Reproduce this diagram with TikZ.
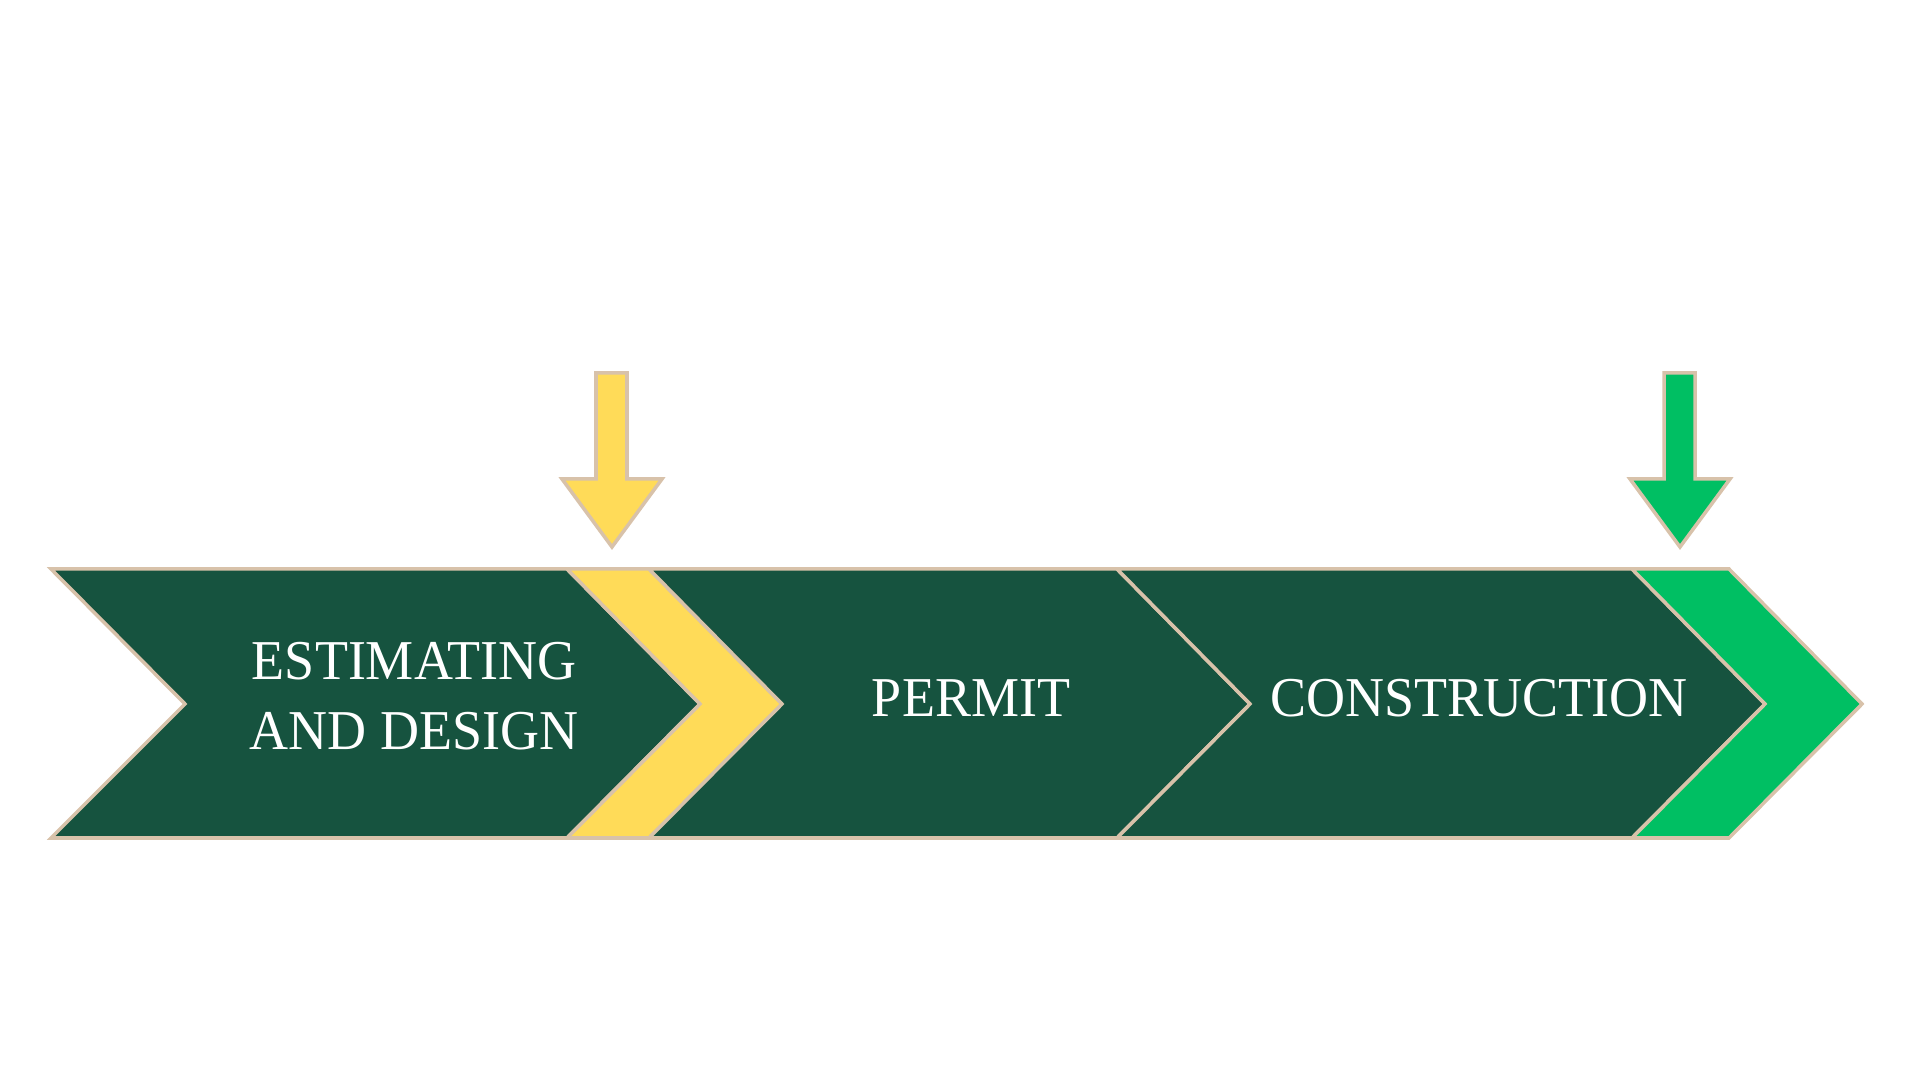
\documentclass[tikz,border=0pt]{standalone}
\usepackage{fontspec}
\setmainfont{Liberation Serif}[FakeStretch=0.96]
\definecolor{darkgreen}{HTML}{16533F}
\definecolor{sunyellow}{HTML}{FFDB58}
\definecolor{brightgreen}{HTML}{00BF63}
\definecolor{tanline}{HTML}{D8C2AA}
\begin{document}
\begin{tikzpicture}[x=0.01cm,y=-0.01cm,
  chev/.style={draw=tanline,line width=1pt,line join=miter},
  label/.style={text=white,font=\fontsize{16}{20}\selectfont,align=center}]
\useasboundingbox (0,0) rectangle (1920,1080);
\draw[chev,fill=darkgreen] (51,569) -- (567,569) -- (700,704) -- (567,838)
  -- (51,838) -- (185,704) -- cycle;
\draw[chev,fill=sunyellow] (567,569) -- (649,569) -- (782,704) -- (649,838)
  -- (567,838) -- (700,704) -- cycle;
\draw[chev,fill=darkgreen] (649,569) -- (1117,569) -- (1250,704) -- (1117,838)
  -- (649,838) -- (782,704) -- cycle;
\draw[chev,fill=darkgreen] (1117,569) -- (1632,569) -- (1765,704) -- (1632,838)
  -- (1117,838) -- (1250,704) -- cycle;
\draw[chev,fill=brightgreen] (1632,569) -- (1729,569) -- (1862,704) -- (1729,838)
  -- (1632,838) -- (1765,704) -- cycle;
\draw[chev,fill=sunyellow] (596,373) -- (627,373) -- (627,479) -- (662,479)
  -- (612,547) -- (562,479) -- (596,479) -- cycle;
\draw[chev,fill=brightgreen] (1664,373) -- (1695,373) -- (1695,479) -- (1730,479)
  -- (1680,547) -- (1630,479) -- (1664,479) -- cycle;
\node[label] (estimating) at (414,696) {ESTIMATING\\AND DESIGN};
\node[label] (permit) at (971,698) {PERMIT};
\node[label] (construction) at (1479,698) {CONSTRUCTION};
\end{tikzpicture}
\end{document}
